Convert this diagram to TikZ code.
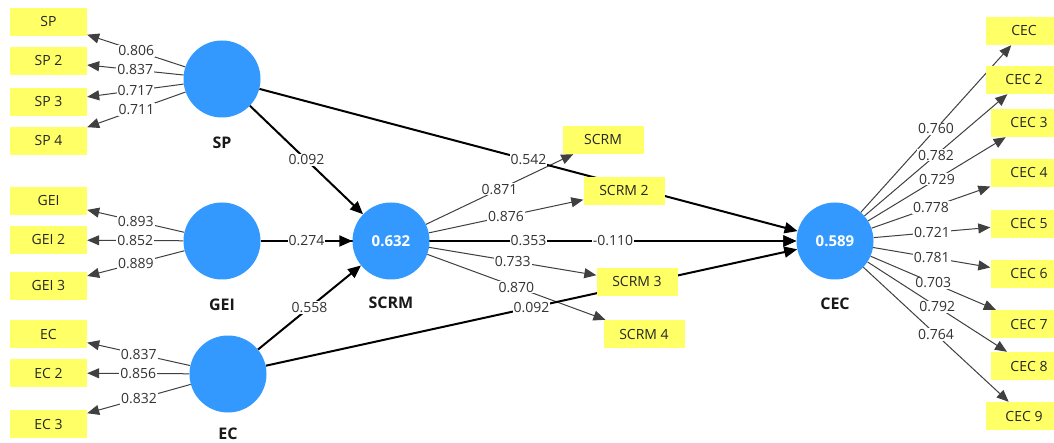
\documentclass[tikz,border=0pt]{standalone}
\usepackage{fontspec}
\setmainfont{Open Sans}
\usetikzlibrary{arrows.meta}
\pgfdeclarelayer{bg}
\pgfdeclarelayer{lines}
\pgfsetlayers{bg,lines,main}
\definecolor{lvblue}{RGB}{51,153,255}
\definecolor{indyellow}{RGB}{255,255,102}
\tikzset{
 lv/.style={circle,fill=lvblue,minimum size=77pt,inner sep=0pt,text=white,font=\fontsize{15}{17}\selectfont\bfseries},
 ind/.style={rectangle,fill=indyellow,minimum width=77pt,minimum height=28pt,inner sep=0pt,font=\fontsize{14}{16}\selectfont,text=black!85},
 indw/.style={ind,minimum width=81pt},
 lvname/.style={font=\fontsize{16}{18}\selectfont\bfseries,text=black!90},
 load/.style={draw=black!75,line width=1pt,-{Triangle[length=12pt,width=10pt]}},
 struct/.style={draw=black,line width=2pt,-{Triangle[length=13pt,width=11pt]}},
 val/.style={fill=white,inner sep=1pt,font=\fontsize{14}{16}\selectfont,text=black!80,pos=0.5},
}
\begin{document}
\begin{tikzpicture}[x=1pt,y=-1pt]
\useasboundingbox (0,0) rectangle (1054,443);
\begin{pgfonlayer}{bg}
\fill[white] (0,0) rectangle (1054,443);
\end{pgfonlayer}
% latent variables
\node[lv] (sp) at (222,79) {};
\node[lv] (gei) at (222,241) {};
\node[lv] (ec) at (228,374) {};
\node[lv] (scrm) at (391,241) {0.632};
\node[lv] (cec) at (835,241) {0.589};
\node[lvname] (spn) at (222,143) {SP};
\node[lvname] (gein) at (222,305) {GEI};
\node[lvname] (ecn) at (228,434) {EC};
\node[lvname] (scrmn) at (391,303) {SCRM};
\node[lvname] (cecn) at (835,304) {CEC};
% indicators
\node[ind] (sp1) at (48.5,22) {SP};
\node[ind] (sp2) at (48.5,61) {SP 2};
\node[ind] (sp3) at (48.5,102) {SP 3};
\node[ind] (sp4) at (48.5,141) {SP 4};
\node[ind] (gei1) at (48.5,201) {GEI};
\node[ind] (gei2) at (48.5,240) {GEI 2};
\node[ind] (gei3) at (48.5,286) {GEI 3};
\node[ind] (ec1) at (48.5,334) {EC};
\node[ind] (ec2) at (48.5,373) {EC 2};
\node[ind] (ec3) at (48.5,424) {EC 3};
\node[indw] (scrm1) at (603,140) {SCRM};
\node[indw] (scrm2) at (624,191) {SCRM 2};
\node[indw] (scrm3) at (637,282) {SCRM 3};
\node[indw] (scrm4) at (644,334) {SCRM 4};
\node[ind] (cec1) at (1024,31) {CEC};
\node[ind] (cec2) at (1024,80) {CEC 2};
\node[ind] (cec3) at (1029,123) {CEC 3};
\node[ind] (cec4) at (1029,173) {CEC 4};
\node[ind] (cec5) at (1029,224) {CEC 5};
\node[ind] (cec6) at (1029,274) {CEC 6};
\node[ind] (cec7) at (1029,324) {CEC 7};
\node[ind] (cec8) at (1029,366) {CEC 8};
\node[ind] (cec9) at (1024,416) {CEC 9};
\begin{pgfonlayer}{lines}
% outer loadings
\draw[load] (sp) -- node[val]{0.806} (sp1);
\draw[load] (sp) -- node[val]{0.837} (sp2);
\draw[load] (sp) -- node[val]{0.717} (sp3);
\draw[load] (sp) -- node[val]{0.711} (sp4);
\draw[load] (gei) -- node[val]{0.893} (gei1);
\draw[load] (gei) -- node[val]{0.852} (gei2);
\draw[load] (gei) -- node[val]{0.889} (gei3);
\draw[load] (ec) -- node[val]{0.837} (ec1);
\draw[load] (ec) -- node[val]{0.856} (ec2);
\draw[load] (ec) -- node[val]{0.832} (ec3);
\draw[load] (scrm) -- node[val]{0.871} (scrm1);
\draw[load] (scrm) -- node[val]{0.876} (scrm2);
\draw[load] (scrm) -- node[val]{0.733} (scrm3);
\draw[load] (scrm) -- node[val]{0.870} (scrm4);
\draw[load] (cec) -- node[val]{0.760} (cec1);
\draw[load] (cec) -- node[val]{0.782} (cec2);
\draw[load] (cec) -- node[val]{0.729} (cec3);
\draw[load] (cec) -- node[val]{0.778} (cec4);
\draw[load] (cec) -- node[val]{0.721} (cec5);
\draw[load] (cec) -- node[val]{0.781} (cec6);
\draw[load] (cec) -- node[val]{0.703} (cec7);
\draw[load] (cec) -- node[val]{0.792} (cec8);
\draw[load] (cec) -- node[val]{0.764} (cec9);
% structural paths
\draw[struct] (gei) -- (cec);
\draw[struct] (sp) -- (scrm);
\draw[struct] (gei) -- (scrm);
\draw[struct] (ec) -- (scrm);
\draw[struct] (sp) -- (cec);
\draw[struct] (scrm) -- (cec);
\draw[struct] (ec) -- (cec);
% structural path coefficients
\path (gei) -- node[val]{0.353} (cec);
\path (sp) -- node[val]{0.092} (scrm);
\path (gei) -- node[val]{0.274} (scrm);
\path (ec) -- node[val]{0.558} (scrm);
\path (sp) -- node[val]{0.542} (cec);
\path (scrm) -- node[val]{-0.110} (cec);
\path (ec) -- node[val]{0.092} (cec);
\end{pgfonlayer}
\end{tikzpicture}
\end{document}
